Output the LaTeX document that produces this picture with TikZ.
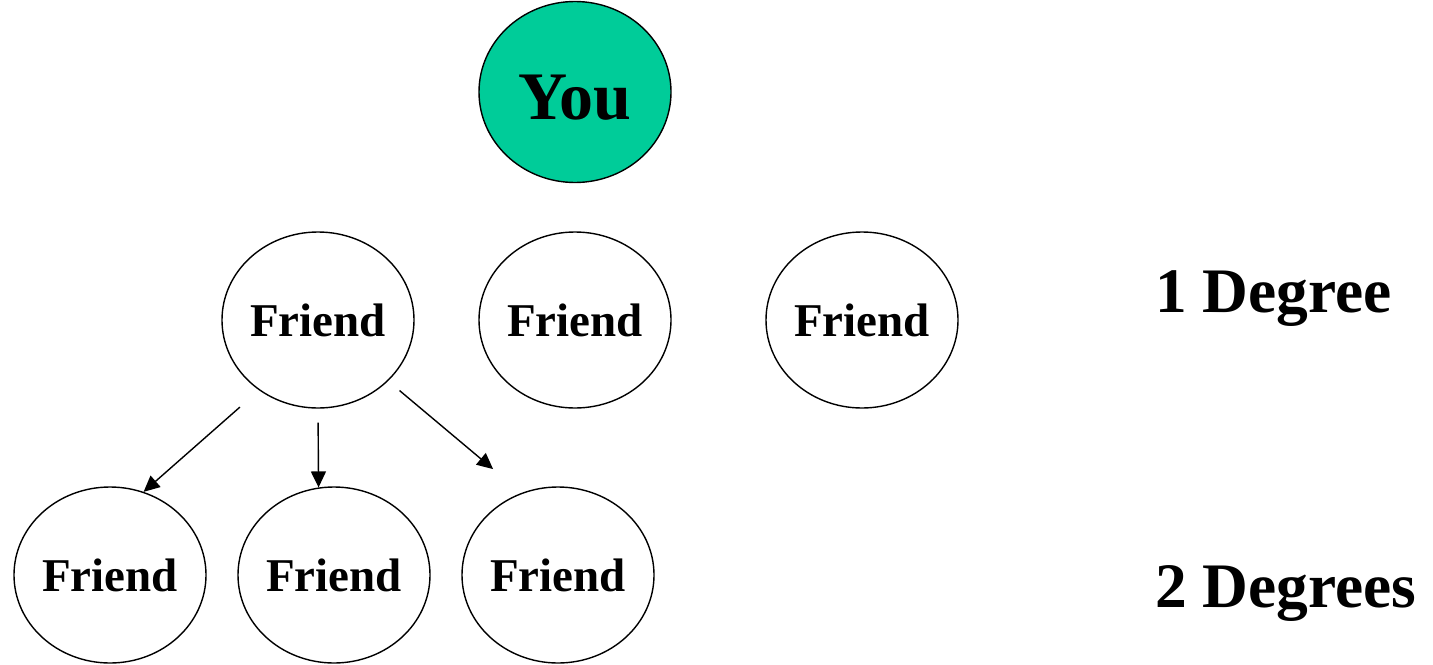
\documentclass[tikz,border=0pt]{standalone}
\usepackage{xcolor}
\usepackage{fontspec}
\setmainfont{Liberation Serif}
\usetikzlibrary{shapes.geometric,arrows.meta}
\definecolor{yougreen}{RGB}{0,204,153}

\begin{document}
\begin{tikzpicture}[x=0.5pt,y=-0.5pt,
    friend/.style={draw,ellipse,line width=0.7pt,minimum width=96pt,minimum height=88pt,inner sep=0pt,font=\fontsize{23.5}{28}\selectfont\bfseries},
    degree/.style={anchor=base west,inner sep=0pt,font=\fontsize{31.7}{38}\selectfont\bfseries},
    link/.style={line width=0.7pt,-{Triangle[length=8pt,width=7.5pt]}}]
            \useasboundingbox (0,0) rectangle (1433,664);

            \node[friend,fill=yougreen,minimum height=90.5pt,text height=27.5pt,text depth=0pt,font=\fontsize{34}{40}\selectfont\bfseries] (you) at (575,92) {You};

            \node[friend] (f1) at (318,320) {Friend};
            \node[friend] (f2) at (575,320) {Friend};
            \node[friend] (f3) at (862,320) {Friend};

            \node[friend] (g1) at (110,575) {Friend};
            \node[friend] (g2) at (334,575) {Friend};
            \node[friend] (g3) at (558,575) {Friend};

            \draw[link,shorten <=12.7pt] (f1.230) -- (g1.68);
            \draw[link,shorten <=7pt] (f1.south) -- (g2.100);
            \draw[link,shorten <=7.4pt,shorten >=18.5pt] (f1.319) -- (g3.114);

            \node[degree] (deg1) at (1155,312) {1 Degree};
            \node[degree] (deg2) at (1155,607) {2 Degrees};
         \end{tikzpicture}
\end{document}
